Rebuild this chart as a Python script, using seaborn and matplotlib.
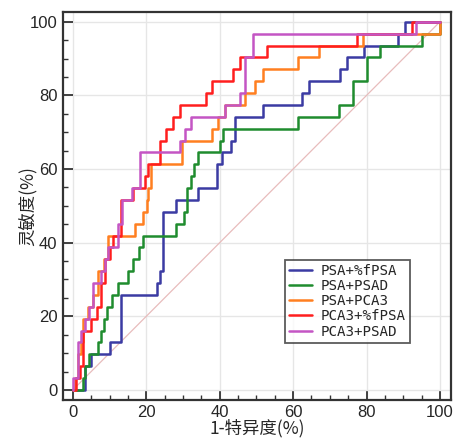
import matplotlib
matplotlib.use("Agg")
import matplotlib.pyplot as plt
from matplotlib.ticker import MultipleLocator
import seaborn as sns
import pandas as pd

series_names = ["PSA+%fPSA", "PSA+PSAD", "PSA+PCA3", "PCA3+%fPSA", "PCA3+PSAD"]

blue_fpr = [0, 3.2, 5.0, 10.0, 13.2, 22.9, 23.7, 24.6, 28.2, 34.0, 39.3, 40.5, 43.2, 44.1, 51.9, 62.3, 64.3, 72.8, 74.6, 79.3, 88.6, 90.6, 100]
blue_tpr = [0, 6.5, 9.7, 12.9, 25.8, 29.0, 32.3, 48.4, 51.6, 54.8, 61.3, 64.5, 67.7, 74.2, 77.4, 80.6, 83.9, 87.1, 90.3, 93.5, 96.8, 100, 100]

green_fpr = [0, 2.7, 3.2, 4.5, 6.8, 7.7, 8.6, 9.4, 10.8, 12.4, 15.1, 16.3, 18.1, 19.0, 28.2, 30.2, 31.2, 32.3, 33.0, 34.2, 40.0, 40.8, 61.4, 72.6, 76.4, 80.0, 83.8, 95.2, 100]
green_tpr = [0, 3.2, 6.5, 9.7, 12.9, 16.1, 19.4, 22.6, 25.8, 29.0, 32.3, 35.5, 38.7, 41.9, 45.2, 48.4, 54.8, 58.1, 61.3, 64.5, 67.7, 71.0, 74.2, 77.4, 83.9, 90.3, 93.5, 96.8, 100]

orange_fpr = [0, 0.5, 1.5, 2.3, 2.8, 4.0, 5.5, 6.9, 8.5, 9.6, 16.9, 19.2, 20.1, 20.6, 21.4, 29.6, 37.8, 39.6, 41.4, 46.9, 49.5, 51.9, 61.4, 67.1, 79.1, 100]
orange_tpr = [0, 3.2, 9.7, 12.9, 19.4, 22.6, 25.8, 32.3, 35.5, 41.9, 45.2, 48.4, 51.6, 54.8, 61.3, 67.7, 71.0, 74.2, 77.4, 80.6, 83.9, 87.1, 90.3, 93.5, 96.8, 100]

red_fpr = [0, 0.8, 1.9, 2.9, 5.0, 6.5, 7.7, 8.7, 10.1, 10.9, 13.2, 16.4, 19.6, 20.5, 23.7, 25.5, 27.3, 29.2, 36.4, 37.8, 43.5, 45.5, 52.8, 77.3, 92.3, 100]
red_tpr = [0, 3.2, 6.5, 16.1, 19.4, 22.6, 29.0, 35.5, 38.7, 41.9, 51.6, 54.8, 58.1, 61.3, 67.7, 71.0, 74.2, 77.4, 80.6, 83.9, 87.1, 90.3, 93.5, 96.8, 100, 100]

pink_fpr = [0, 0, 1.4, 2.3, 3.2, 4.5, 5.5, 7.6, 8.7, 9.6, 12.3, 13.3, 16.0, 18.3, 29.2, 30.5, 32.3, 41.4, 45.5, 46.9, 49.0, 93.6, 100]
pink_tpr = [0, 3.2, 12.9, 16.1, 19.4, 22.6, 29.0, 32.3, 35.5, 38.7, 45.2, 51.6, 54.8, 64.5, 67.7, 71.0, 74.2, 77.4, 80.6, 90.3, 96.8, 100, 100]

diag = [0, 100]
major_ticks = [0, 20, 40, 60, 80, 100]

colors = ["#3b3ba3", "#1f8c2e", "#ff7f20", "#ff1e1e", "#c455c4"]

frames = []
for name, fx, ty in zip(series_names,
                        [blue_fpr, green_fpr, orange_fpr, red_fpr, pink_fpr],
                        [blue_tpr, green_tpr, orange_tpr, red_tpr, pink_tpr]):
    frames.append(pd.DataFrame({"fpr": fx, "tpr": ty, "model": name}))
df = pd.concat(frames, ignore_index=True)

sns.set_style("white")
plt.rcParams["font.family"] = ["Liberation Sans", "Noto Sans CJK SC", "DejaVu Sans"]

fig = plt.figure(figsize=(4.56, 4.38), dpi=100)
ax = fig.add_axes([0.138, 0.087, 0.851, 0.886])

ax.grid(True, which="major", color="#e6e6e6", linewidth=1.0)
ax.set_axisbelow(True)

sns.lineplot(x=diag, y=diag, ax=ax, color="#e8bcbc", linewidth=0.9, legend=False)

sns.lineplot(data=df, x="fpr", y="tpr", hue="model", hue_order=series_names,
             palette=colors, sort=False, estimator=None, units="model",
             drawstyle="steps-post", linewidth=1.8, ax=ax)

ax.set_xlim(-2.7, 103)
ax.set_ylim(-2.7, 102.7)
ax.set_xticks(major_ticks)
ax.set_yticks(major_ticks)
ax.xaxis.set_minor_locator(MultipleLocator(5))
ax.yaxis.set_minor_locator(MultipleLocator(5))
ax.tick_params(which="major", direction="in", length=7, width=1.3, color="#333333",
               labelsize=12, pad=4, bottom=True, left=True)
ax.tick_params(which="minor", direction="in", length=3.5, width=1.0, color="#333333",
               bottom=True, left=True)
for sp in ax.spines.values():
    sp.set_color("#333333")
    sp.set_linewidth(1.6)

ax.set_xlabel("1-特异度(%)", fontsize=12.5, family=["Noto Sans CJK SC"], labelpad=-1)
ax.set_ylabel("灵敏度(%)", fontsize=12.5, family=["Noto Sans CJK SC"], labelpad=-6)

handles, labels = ax.get_legend_handles_labels()
leg = ax.legend(handles, labels, loc="upper left", bbox_to_anchor=(0.572, 0.361),
                borderaxespad=0, frameon=True, fancybox=False, handlelength=1.6,
                handletextpad=0.6, labelspacing=0.08, borderpad=0.3,
                prop={"family": "DejaVu Sans Mono", "size": 10.2})
leg.get_frame().set_edgecolor("#333333")
leg.get_frame().set_linewidth(1.3)

fig.savefig("out.png", dpi=100)
